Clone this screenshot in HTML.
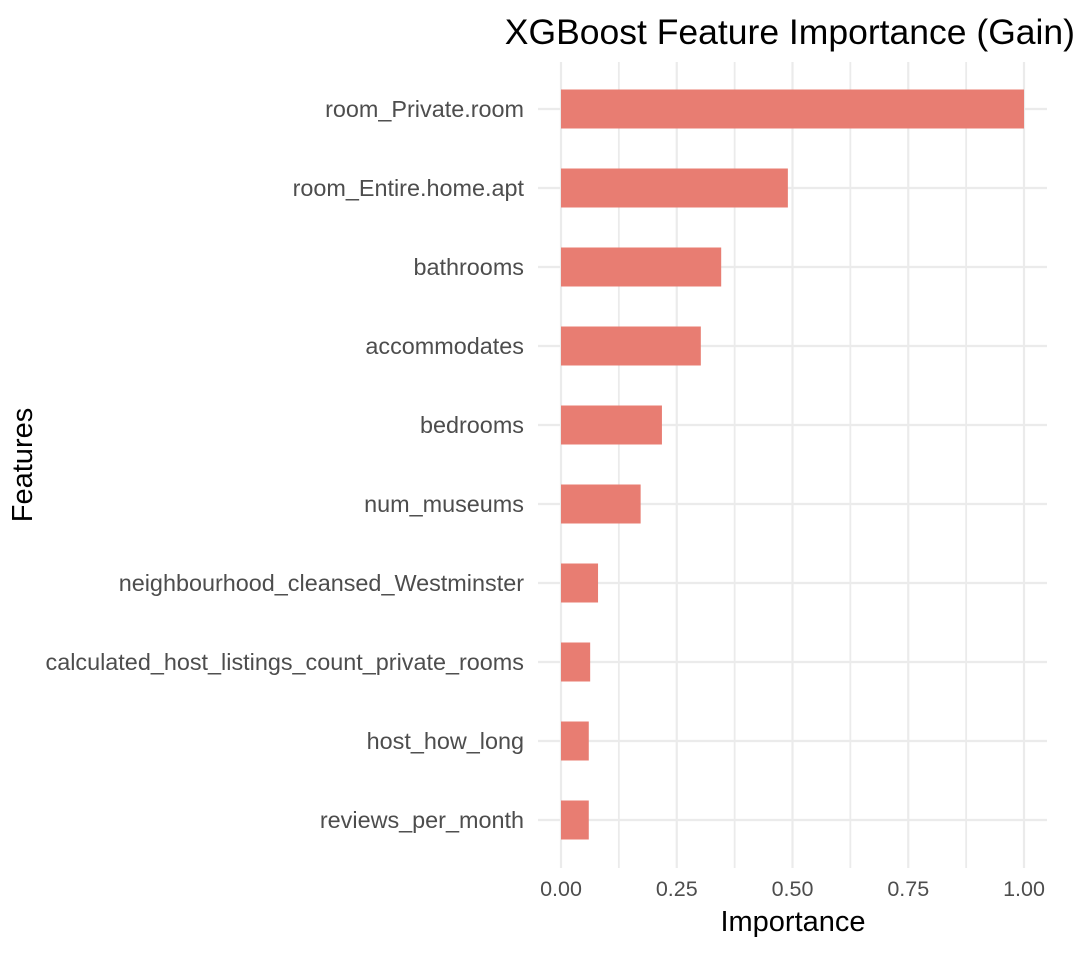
<!DOCTYPE html>
<html><head><meta charset="utf-8"><style>
body{margin:0;background:#fff;}
svg text{font-family:"Liberation Sans",Arial,sans-serif;}
</style></head><body>
<svg id="chart" width="1090" height="948">
<text x="1075" y="44" text-anchor="end" font-size="35.5" fill="#000">XGBoost Feature Importance (Gain)</text>
<g id="grid"></g>
<g id="bars"></g>
<g id="ylabels"></g>
<g id="xlabels"></g>
<text x="793" y="931" text-anchor="middle" font-size="29" fill="#000">Importance</text>
<text transform="translate(32,465) rotate(-90)" text-anchor="middle" font-size="29" fill="#000">Features</text>
</svg>
<script>
const features=["room_Private.room","room_Entire.home.apt","bathrooms","accommodates","bedrooms","num_museums","neighbourhood_cleansed_Westminster","calculated_host_listings_count_private_rooms","host_how_long","reviews_per_month"];
const values=[1.0,0.49,0.346,0.302,0.218,0.172,0.08,0.063,0.06,0.06];
const xTicks=[0,0.25,0.5,0.75,1.0];
const xTickLabels=["0.00","0.25","0.50","0.75","1.00"];
const ns="http://www.w3.org/2000/svg";
const x0=561,x1=1024,pL=538,pR=1047,pT=62,pB=868,y0=109,step=79,bh=39;
const sx=v=>x0+(x1-x0)*v;
const sy=i=>y0+step*i;
function mk(t,a,p){const e=document.createElementNS(ns,t);for(const k in a)e.setAttribute(k,a[k]);p.appendChild(e);return e;}
const grid=document.getElementById('grid'),bars=document.getElementById('bars'),yl=document.getElementById('ylabels'),xl=document.getElementById('xlabels');
for(let i=0;i<xTicks.length;i++){
  const l=mk('line',{x1:sx(xTicks[i]),x2:sx(xTicks[i]),y1:pT,y2:pB,stroke:'#ebebeb','stroke-width':2.2},grid);
  
  
  if(i<xTicks.length-1){
    const m=(xTicks[i]+xTicks[i+1])/2;
    const g=mk('line',{x1:sx(m),x2:sx(m),y1:pT,y2:pB,stroke:'#ebebeb','stroke-width':1.8},grid);
    
    
  }
  const t=mk('text',{x:sx(xTicks[i]),y:896,'text-anchor':'middle','font-size':21.5,fill:'#4d4d4d'},xl);
  t.textContent=xTickLabels[i];
  
  
}
features.forEach((f,i)=>{
  const g=mk('line',{x1:pL,x2:pR,y1:sy(i),y2:sy(i),stroke:'#ebebeb','stroke-width':2.2},grid);
  
  
  const r=mk('rect',{x:sx(0),y:sy(i)-bh/2,width:sx(values[i])-sx(0),height:bh,fill:'#E87D72'},bars);
  
  
  const t=mk('text',{x:524,y:sy(i)+8,'text-anchor':'end','font-size':23.4,fill:'#4d4d4d'},yl);
  t.textContent=f;
  
  
});
</script>
</body></html>
